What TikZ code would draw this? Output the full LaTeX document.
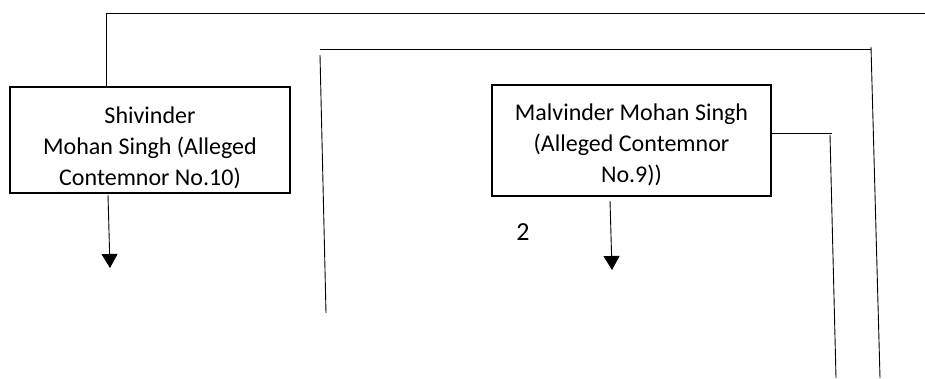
\documentclass[tikz,border=0pt]{standalone}
\usepackage{fontspec}
\setmainfont{Carlito}
\usetikzlibrary{arrows.meta}
\tikzset{
  box/.style={draw=black, line width=1.6pt, rectangle, inner sep=0pt},
  boxtext/.style={align=center, font=\fontsize{24pt}{31pt}\selectfont, inner sep=0pt},
  conn/.style={draw=black, line width=0.9pt},
  arr/.style={conn, -{Triangle[width=16pt,length=14pt]}},
}
\begin{document}
\begin{tikzpicture}[x=1pt,y=-1pt]
\useasboundingbox[fill=white] (0,0) rectangle (925,379);
% boxes
\node[box, minimum width=280pt, minimum height=106pt] (lbox) at (150,140) {};
\node[boxtext] (ltext) at ([yshift=-8pt]lbox.center) {Shivinder\\Mohan Singh (Alleged\\Contemnor No.10)};
\node[box, minimum width=279pt, minimum height=111pt] (rbox) at (631.5,140.5) {};
\node[boxtext] (rtext) at ([yshift=-4pt]rbox.center) {Malvinder Mohan Singh\\(Alleged Contemnor\\No.9))};
\node[boxtext, font=\fontsize{26pt}{31pt}\selectfont] (two) at (523,232) {2};
% free ends
\coordinate (t1) at (106,13);
\coordinate (t2) at (925,13);
\coordinate (la) at (110,268);
\coordinate (ra) at (612,270);
\coordinate (s1) at (320,49);
\coordinate (s2) at (871,49);
\coordinate (s2a) at (871,47);
\coordinate (s3) at (880,378);
\coordinate (v1) at (320,55);
\coordinate (v2) at (326,313);
\coordinate (h1) at (832,133);
\coordinate (h2) at (830,135);
\coordinate (h3) at (836,378);
% connectors
\draw[conn] (t2) -- (t1) -- (t1 |- lbox.north);
\draw[arr] ([xshift=-42pt,yshift=-1pt]lbox.south) -- (la);
\draw[arr] ([xshift=-21.5pt,yshift=-4pt]rbox.south) -- (ra);
\draw[conn] (s1) -- (s2);
\draw[conn] (s2a) -- (s3);
\draw[conn] (v1) -- (v2);
\draw[conn] (rbox.east |- h1) -- (h1);
\draw[conn] (h2) -- (h3);
\end{tikzpicture}
\end{document}
